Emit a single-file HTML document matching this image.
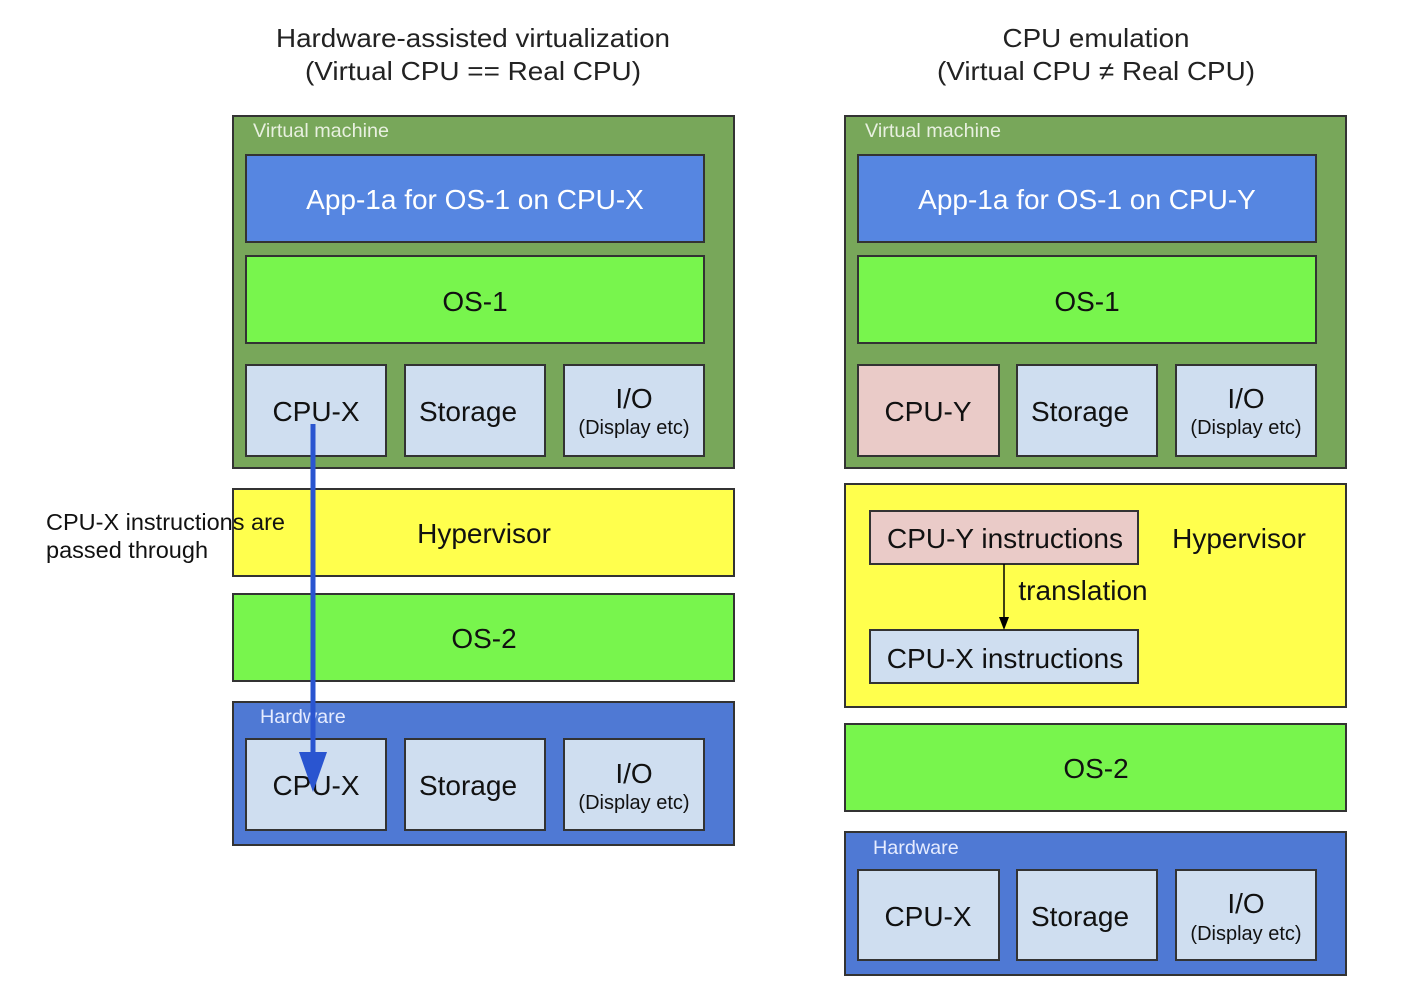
<!DOCTYPE html>
<html><head><meta charset="utf-8"><style>
html,body{margin:0;padding:0;background:#fff;width:1402px;height:1008px;overflow:hidden}
svg text{font-family:"Liberation Sans",sans-serif}
</style></head><body>
<svg width="1402" height="1008" viewBox="0 0 1402 1008" xmlns="http://www.w3.org/2000/svg">
<g fill="#222" font-size="26" text-anchor="middle">
<text x="473" y="47" textLength="394" lengthAdjust="spacingAndGlyphs">Hardware-assisted virtualization</text>
<text x="473" y="80" textLength="336" lengthAdjust="spacingAndGlyphs">(Virtual CPU == Real CPU)</text>
<text x="1096" y="47" textLength="187" lengthAdjust="spacingAndGlyphs">CPU emulation</text>
<text x="1096" y="80" textLength="318" lengthAdjust="spacingAndGlyphs">(Virtual CPU ≠ Real CPU)</text>
</g>
<g stroke="#333" stroke-width="2">
<rect x="233" y="116" width="501" height="352" fill="#78a75a"/>
<rect x="246" y="155" width="458" height="87" fill="#5686e1"/>
<rect x="246" y="256" width="458" height="87" fill="#78f54d"/>
<rect x="246" y="365" width="140" height="91" fill="#cfdef0"/>
<rect x="405" y="365" width="140" height="91" fill="#cfdef0"/>
<rect x="564" y="365" width="140" height="91" fill="#cfdef0"/>
<rect x="233" y="489" width="501" height="87" fill="#ffff4d"/>
<rect x="233" y="594" width="501" height="87" fill="#78f54d"/>
<rect x="233" y="702" width="501" height="143" fill="#4f79d4"/>
<rect x="246" y="739" width="140" height="91" fill="#cfdef0"/>
<rect x="405" y="739" width="140" height="91" fill="#cfdef0"/>
<rect x="564" y="739" width="140" height="91" fill="#cfdef0"/>
<rect x="845" y="116" width="501" height="352" fill="#78a75a"/>
<rect x="858" y="155" width="458" height="87" fill="#5686e1"/>
<rect x="858" y="256" width="458" height="87" fill="#78f54d"/>
<rect x="858" y="365" width="141" height="91" fill="#eacbc8"/>
<rect x="1017" y="365" width="140" height="91" fill="#cfdef0"/>
<rect x="1176" y="365" width="140" height="91" fill="#cfdef0"/>
<rect x="845" y="484" width="501" height="223" fill="#ffff4d"/>
<rect x="870" y="511" width="268" height="53" fill="#eacbc8"/>
<rect x="870" y="630" width="268" height="53" fill="#cfdef0"/>
<rect x="845" y="724" width="501" height="87" fill="#78f54d"/>
<rect x="845" y="832" width="501" height="143" fill="#4f79d4"/>
<rect x="858" y="870" width="141" height="90" fill="#cfdef0"/>
<rect x="1017" y="870" width="140" height="90" fill="#cfdef0"/>
<rect x="1176" y="870" width="140" height="90" fill="#cfdef0"/>
</g>
<g font-size="19.8" fill="#e8f0e0">
<text x="253" y="137">Virtual machine</text>
<text x="865" y="137">Virtual machine</text>
<text x="260" y="723" fill="#e6ecff">Hardware</text>
<text x="873" y="854" fill="#e6ecff">Hardware</text>
</g>
<g font-size="28" text-anchor="middle" fill="#fff">
<text x="475" y="209">App-1a for OS-1 on CPU-X</text>
<text x="1087" y="209">App-1a for OS-1 on CPU-Y</text>
</g>
<g font-size="28" text-anchor="middle" fill="#111">
<text x="475" y="311">OS-1</text>
<text x="1087" y="311">OS-1</text>
<text x="316" y="421">CPU-X</text>
<text x="468" y="421">Storage</text>
<text x="634" y="408">I/O</text>
<text x="928" y="421">CPU-Y</text>
<text x="1080" y="421">Storage</text>
<text x="1246" y="408">I/O</text>
<text x="484" y="543">Hypervisor</text>
<text x="484" y="648">OS-2</text>
<text x="316" y="795">CPU-X</text>
<text x="468" y="795">Storage</text>
<text x="634" y="783">I/O</text>
<text x="1096" y="778">OS-2</text>
<text x="928" y="926">CPU-X</text>
<text x="1080" y="926">Storage</text>
<text x="1246" y="913">I/O</text>
<text x="1005" y="548">CPU-Y instructions</text>
<text x="1005" y="668">CPU-X instructions</text>
<text x="1239" y="548">Hypervisor</text>
<text x="1083" y="600">translation</text>
</g>
<g font-size="20" text-anchor="middle" fill="#111">
<text x="634" y="434">(Display etc)</text>
<text x="1246" y="434">(Display etc)</text>
<text x="634" y="809">(Display etc)</text>
<text x="1246" y="940">(Display etc)</text>
</g>
<g font-size="23.5" fill="#111">
<text x="46" y="530">CPU-X instructions are</text>
<text x="46" y="558">passed through</text>
</g>
<line x1="313" y1="424" x2="313" y2="758" stroke="#2a55d0" stroke-width="5"/>
<polygon points="299,752 327,752 313,792" fill="#2a55d0"/>
<line x1="1004" y1="564" x2="1004" y2="620" stroke="#000" stroke-width="1.5"/>
<polygon points="999,617 1009,617 1004,630" fill="#000"/>
</svg>
</body></html>
